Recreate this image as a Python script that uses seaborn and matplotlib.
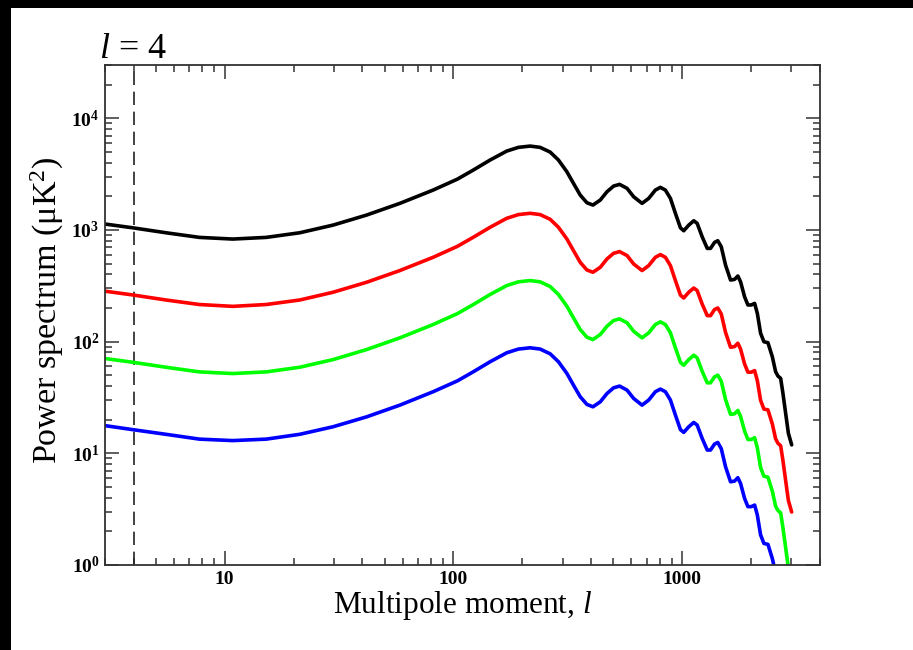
import numpy as np
import pandas as pd
import matplotlib
matplotlib.use("Agg")
import matplotlib.pyplot as plt
import matplotlib.ticker as mticker
from matplotlib.patches import Rectangle
import seaborn as sns

# ---- data ----
ell = [3, 3.96, 5.54, 7.76, 10.85, 15.2, 21.3, 29.8, 41.7, 58.3,
       81.5, 104, 122.1, 144.5, 171, 192.3, 216.3, 239.3, 264.7, 287.8,
       313.2, 334.7, 358.2, 383.2, 407.1, 438.2, 468.8, 501.2, 532.3, 573.8,
       613.2, 667.4, 713.5, 763, 802.6, 844, 887.8, 933.6, 982, 1015,
       1068, 1123, 1162, 1222, 1286, 1329, 1384, 1430, 1481, 1546,
       1626, 1693, 1750, 1798, 1873, 1936, 2003, 2072, 2129, 2200,
       2275, 2369, 2476, 2559, 2620, 2692, 2755, 2831, 2910, 3008]

black_vals = [1130, 1046, 944, 858, 829, 858, 944, 1106, 1359, 1730,
              2276, 2850, 3438, 4225, 5087, 5490, 5638, 5490, 4982, 4225,
              3319, 2614, 2053, 1752, 1671, 1852, 2198, 2472, 2560, 2358,
              1983, 1730, 1918, 2276, 2407, 2276, 1918, 1408, 1045, 984,
              1106, 1209, 1146, 869, 684, 684, 774, 801, 707, 485,
              356, 361, 387, 344, 252, 213, 213, 220, 179, 119,
              99.8, 97.8, 73.2, 53.8, 49.2, 46.9, 34.4, 22.8, 15.1, 11.9]

red_vals = [283, 262, 236, 215, 207, 215, 236, 277, 340, 433,
            569, 713, 860, 1056, 1272, 1373, 1410, 1373, 1246, 1056,
            830, 654, 513, 438, 418, 463, 550, 618, 640, 590,
            496, 433, 480, 569, 602, 569, 480, 352, 261, 246,
            277, 302, 287, 217, 171, 171, 194, 200, 177, 121,
            89, 90.3, 96.8, 86, 63, 53.3, 53.3, 55, 44.8, 29.8,
            24.9, 24.5, 18.3, 13.5, 12.3, 11.7, 8.6, 5.7, 3.78, 2.98]

green_vals = [70.6, 65.4, 59, 53.6, 51.8, 53.6, 59, 69.1, 84.9, 108.1,
              142.3, 178.1, 214.9, 264.1, 317.9, 343.1, 352.4, 343.1, 311.4, 264.1,
              207.4, 163.4, 128.3, 109.5, 104.4, 115.8, 137.4, 154.5, 160, 147.4,
              123.9, 108.1, 119.9, 142.3, 150.4, 142.3, 119.9, 88, 65.3, 61.5,
              69.1, 75.6, 71.6, 54.3, 42.8, 42.8, 48.4, 50.1, 44.2, 30.3,
              22.3, 22.6, 24.2, 21.5, 15.8, 13.3, 13.3, 13.8, 11.2, 7.44,
              6.24, 6.11, 4.58, 3.36, 3.08, 2.93, 2.15, 1.43, 0.94, 0.74]

blue_vals = [17.7, 16.3, 14.8, 13.4, 13.0, 13.4, 14.8, 17.3, 21.2, 27.0,
             35.6, 44.5, 53.7, 66.0, 79.5, 85.8, 88.1, 85.8, 77.8, 66.0,
             51.9, 40.8, 32.1, 27.4, 26.1, 28.9, 34.3, 38.6, 40.0, 36.8,
             31.0, 27.0, 30.0, 35.6, 37.6, 35.6, 30.0, 22.0, 16.3, 15.4,
             17.3, 18.9, 17.9, 13.6, 10.7, 10.7, 12.1, 12.5, 11.0, 7.58,
             5.56, 5.64, 6.05, 5.38, 3.94, 3.33, 3.33, 3.44, 2.80, 1.86,
             1.56, 1.53, 1.14, 0.84, 0.77, 0.73, 0.54, 0.36, 0.24, 0.19]

series_names = ["black", "red", "green", "blue"]
series_colors = ["#000000", "#ff0000", "#00ff00", "#0000ff"]
marked_ell = 4
title_text = r"$l$ = 4"
x_label = r"Multipole moment, $\mathit{l}$"
y_label = r"Power spectrum (μK$^{2}$)"
x_tick_values = [10, 100, 1000]
x_tick_labels = ["10", "100", "1000"]

# ---- style ----
sns.set_style("ticks")
plt.rcParams["font.family"] = ["Liberation Serif", "DejaVu Serif"]
plt.rcParams["mathtext.fontset"] = "custom"
plt.rcParams["mathtext.rm"] = "Liberation Serif"
plt.rcParams["mathtext.it"] = "Liberation Serif:italic"
plt.rcParams["mathtext.bf"] = "Liberation Serif:bold"
plt.rcParams["text.color"] = "black"
plt.rcParams["axes.labelcolor"] = "black"
plt.rcParams["xtick.labelcolor"] = "black"
plt.rcParams["ytick.labelcolor"] = "black"

df = pd.concat([
    pd.DataFrame({"ell": ell, "power": vals, "series": name})
    for name, vals in zip(series_names, [black_vals, red_vals, green_vals, blue_vals])
], ignore_index=True)

fig = plt.figure(figsize=(9.13, 6.5), dpi=100, facecolor="white")
ax = fig.add_axes([105 / 913, 1 - 565 / 650, (820 - 105) / 913, (565 - 65) / 650])

sns.lineplot(data=df, x="ell", y="power", hue="series",
             palette=dict(zip(series_names, series_colors)),
             hue_order=series_names, sort=False, estimator=None,
             legend=False, linewidth=2.6, ax=ax,
             solid_joinstyle="round", solid_capstyle="round")

ax.set_xscale("log")
ax.set_yscale("log")
ax.set_xlim(3, 4000)
ax.set_ylim(1, 3e4)

ax.axvline(marked_ell, color="#222222", linewidth=1.2, linestyle=(0, (8, 4)), zorder=1)

# ticks
ax.xaxis.set_major_locator(mticker.FixedLocator(x_tick_values))
ax.xaxis.set_major_formatter(mticker.FixedFormatter(x_tick_labels))
ax.xaxis.set_minor_locator(mticker.LogLocator(base=10, subs=np.arange(2, 10), numticks=20))
ax.xaxis.set_minor_formatter(mticker.NullFormatter())
ax.yaxis.set_major_locator(mticker.LogLocator(base=10, numticks=10))
ax.yaxis.set_major_formatter(mticker.FuncFormatter(
    lambda v, p: r"$\mathbf{10^{%d}}$" % int(round(np.log10(v)))))
ax.yaxis.set_minor_locator(mticker.LogLocator(base=10, subs=np.arange(2, 10), numticks=20))
ax.yaxis.set_minor_formatter(mticker.NullFormatter())

ax.tick_params(which="both", direction="in", top=True, right=True,
               color="#333333", width=1.1, labelcolor="black")
ax.tick_params(which="major", length=10, pad=4, labelsize=14)
ax.tick_params(which="minor", length=5)
for lab in ax.get_xticklabels():
    lab.set_fontweight("bold")

for sp in ax.spines.values():
    sp.set_color("#333333")
    sp.set_linewidth(1.3)

ax.set_xlabel(x_label, fontsize=22.5, va="baseline", color="black")
ax.set_ylabel(y_label, fontsize=24.5, va="baseline", color="black")
ax.xaxis.set_label_coords(0.5, -(613 - 565) / 500)
ax.yaxis.set_label_coords(-(105 - 57) / 715, 0.51)

fig.text(99 / 913, 1 - 58 / 650, title_text, fontsize=26, ha="left", va="baseline",
         color="black")

# black frame bands (top and left)
fig.add_artist(Rectangle((0, 1 - 8 / 650), 1, 8 / 650, transform=fig.transFigure,
                         facecolor="black", edgecolor="none", zorder=10))
fig.add_artist(Rectangle((0, 0), 11 / 913, 1, transform=fig.transFigure,
                         facecolor="black", edgecolor="none", zorder=10))

fig.savefig("out.png", dpi=100, facecolor="white")
